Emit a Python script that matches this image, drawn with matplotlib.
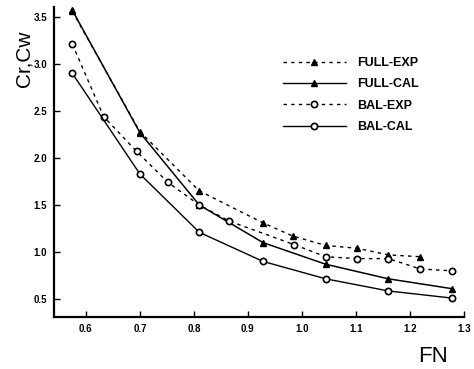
import matplotlib.pyplot as plt
from matplotlib.lines import Line2D

plt.rcParams['font.family'] = ['Liberation Sans', 'DejaVu Sans']

# Froude number vs. resistance coefficient
fn_full_exp = [0.575, 0.70, 0.81, 0.928, 0.983, 1.044, 1.102, 1.16, 1.219]
cw_full_exp = [3.56, 2.28, 1.65, 1.31, 1.17, 1.07, 1.04, 0.97, 0.95]

fn_full_cal = [0.575, 0.70, 0.81, 0.928, 1.044, 1.16, 1.278]
cw_full_cal = [3.57, 2.27, 1.50, 1.10, 0.87, 0.715, 0.61]

fn_bal_exp = [0.575, 0.633, 0.694, 0.752, 0.81, 0.865, 0.985, 1.044, 1.102, 1.16, 1.219, 1.278]
cw_bal_exp = [3.21, 2.44, 2.07, 1.74, 1.50, 1.33, 1.08, 0.95, 0.93, 0.93, 0.82, 0.80]

fn_bal_cal = [0.575, 0.70, 0.81, 0.928, 1.044, 1.16, 1.278]
cw_bal_cal = [2.90, 1.83, 1.21, 0.90, 0.715, 0.586, 0.51]

x_ticks = [0.6, 0.7, 0.8, 0.9, 1.0, 1.1, 1.2, 1.3]
y_ticks = [0.5, 1.0, 1.5, 2.0, 2.5, 3.0, 3.5]

fig = plt.figure(figsize=(4.74, 3.69), dpi=100)
ax = fig.add_axes([54 / 474, 1 - 317 / 369, (464 - 54) / 474, (317 - 7) / 369])

dash = (0, (2.5, 3))
tri = dict(marker='^', markersize=4, markerfacecolor='black', markeredgecolor='black')
circ = dict(marker='o', markersize=4.5, markerfacecolor='white', markeredgecolor='black',
            markeredgewidth=1.2)

ax.plot(fn_full_exp, cw_full_exp, color='black', lw=1.0, linestyle=dash, **tri)
ax.plot(fn_full_cal, cw_full_cal, color='black', lw=1.1, linestyle='-', **tri)
ax.plot(fn_bal_exp, cw_bal_exp, color='black', lw=1.0, linestyle=dash, **circ)
ax.plot(fn_bal_cal, cw_bal_cal, color='black', lw=1.0, linestyle='-', **circ)

ax.set_xlim(0.541, 1.3)
ax.set_ylim(0.309, 3.606)
ax.set_xticks(x_ticks)
ax.set_yticks(y_ticks)
ax.set_xticklabels([f'{v:.1f}' for v in x_ticks], fontsize=7, fontweight='bold')
ax.set_yticklabels([f'{v:.1f}' for v in y_ticks], fontsize=7, fontweight='bold')
ax.tick_params(axis='both', direction='in', length=4, width=1, pad=5)

for side in ['top', 'right']:
    ax.spines[side].set_visible(False)
for side in ['left', 'bottom']:
    ax.spines[side].set_linewidth(1.6)

fig.text(24 / 474, 1 - 59 / 369, 'Cr,Cw', rotation=90, fontsize=15,
         ha='center', va='center')
fig.text(433 / 474, 1 - 357 / 369, 'FN', fontsize=16, ha='center', va='center')

handles = [
    Line2D([], [], color='black', lw=1.0, linestyle=dash, **tri),
    Line2D([], [], color='black', lw=1.0, linestyle='-', **tri),
    Line2D([], [], color='black', lw=1.0, linestyle=dash, **circ),
    Line2D([], [], color='black', lw=1.0, linestyle='-', **circ),
]
labels = ['FULL-EXP', 'FULL-CAL', 'BAL-EXP', 'BAL-CAL']
fig.legend(handles, labels, loc='upper left', bbox_to_anchor=(283 / 474, 1 - 57 / 369),
           frameon=False, prop={'weight': 'bold', 'size': 9},
           handlelength=5.0, handletextpad=0.9, labelspacing=0.75,
           borderpad=0, borderaxespad=0)

fig.savefig('out.png', dpi=100)
